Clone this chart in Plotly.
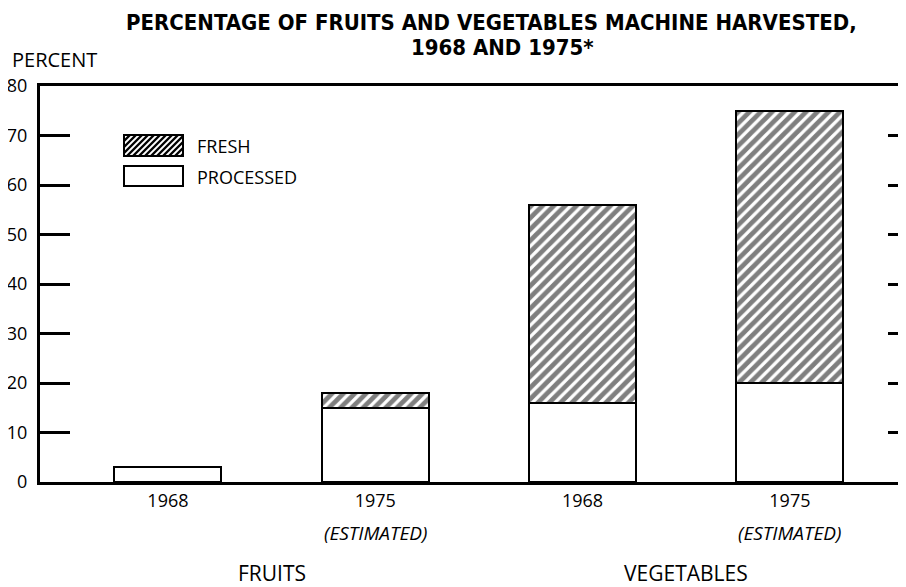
import plotly.graph_objects as go

# ---- data ----
years = ["1968", "1975", "1968", "1975"]
estimated = ["", "(ESTIMATED)", "", "(ESTIMATED)"]
groups = ["FRUITS", "VEGETABLES"]
processed = [3, 15, 16, 20]
fresh = [0, 3, 40, 55]
yticks = [0, 10, 20, 30, 40, 50, 60, 70, 80]
title_lines = ["PERCENTAGE OF FRUITS AND VEGETABLES MACHINE HARVESTED,", "1968 AND 1975*"]

# page body adds an 8px offset; figure is sized to fill the remaining window
OFF = 8
W, H = 906 - OFF, 587 - OFF
L, R, T, B = 40 - OFF, 0, 86 - OFF, 105
PW, PH = W - L - R, H - T - B

def px_x(px):
    return (px - OFF - L) / PW

def px_y(py):
    return (H - B - (py - OFF)) / PH

idx = list(range(len(years)))
FONT = "'Open Sans', Lato, 'DejaVu Sans', sans-serif"
NARROW = "'Liberation Sans Narrow', 'DejaVu Sans Condensed', 'Arial Narrow', sans-serif"

fig = go.Figure()
fig.add_trace(go.Bar(
    x=idx, y=processed, name="PROCESSED", width=0.516,
    marker=dict(color="white", line=dict(color="black", width=2.5)),
    showlegend=False,
))
fig.add_trace(go.Bar(
    x=idx, y=fresh, name="FRESH", width=0.516,
    marker=dict(color="white", line=dict(color="black", width=2.5),
                pattern=dict(shape="/", fgcolor="black", bgcolor="white",
                             size=8, solidity=0.6)),
    showlegend=False,
))
# dummy trace to activate the right-hand tick axis
fig.add_trace(go.Scatter(x=[None], y=[None], yaxis="y2", showlegend=False,
                         hoverinfo="skip"))

shapes = []
# legend boxes (drawn in pixel-derived paper coords)
bx0, bx1 = 124, 183
for (ty, by, hatched) in [(135, 156, True), (166, 186, False)]:
    shapes.append(dict(type="rect", xref="paper", yref="paper",
                       x0=px_x(bx0), x1=px_x(bx1), y0=px_y(by), y1=px_y(ty),
                       line=dict(color="black", width=2), fillcolor="white"))
    if hatched:
        h = by - ty
        step = 6
        x = bx0 - h
        while x < bx1:
            t0 = max(0.0, (bx0 - x) / h)
            t1 = min(1.0, (bx1 - x) / h)
            if t1 > t0:
                xa, ya = x + h * t0, by - h * t0
                xb, yb = x + h * t1, by - h * t1
                shapes.append(dict(type="line", xref="paper", yref="paper",
                                   x0=px_x(xa), y0=px_y(ya), x1=px_x(xb), y1=px_y(yb),
                                   line=dict(color="black", width=2.4)))
            x += step

annotations = []
for line_text, cx, cy in zip(title_lines, [491, 503], [22.5, 48]):
    annotations.append(dict(text="<b>" + line_text + "</b>", xref="paper", yref="paper",
                            x=px_x(cx), y=px_y(cy), xanchor="center", yanchor="middle",
                            showarrow=False,
                            font=dict(family=NARROW, size=22, color="black")))
annotations.append(dict(text="PERCENT", xref="paper", yref="paper",
                        x=px_x(10), y=px_y(60), xanchor="left", yanchor="middle",
                        showarrow=False, font=dict(family=FONT, size=20, color="black")))
annotations.append(dict(text="FRESH", xref="paper", yref="paper",
                        x=px_x(195), y=px_y(146), xanchor="left", yanchor="middle",
                        showarrow=False, font=dict(family=FONT, size=18, color="black")))
annotations.append(dict(text="PROCESSED", xref="paper", yref="paper",
                        x=px_x(195), y=px_y(177), xanchor="left", yanchor="middle",
                        showarrow=False, font=dict(family=FONT, size=18, color="black")))
for i, e in zip(idx, estimated):
    if e:
        annotations.append(dict(text="<i>" + e + "</i>", xref="x", yref="paper",
                                x=i, y=px_y(533), xanchor="center", yanchor="middle",
                                showarrow=False,
                                font=dict(family=FONT, size=19, color="black")))
for gi, g in enumerate(groups):
    annotations.append(dict(text=g, xref="x", yref="paper",
                            x=2 * gi + 0.5, y=px_y(573), xanchor="center", yanchor="middle",
                            showarrow=False, font=dict(family=FONT, size=21, color="black")))

fig.update_layout(
    width=W, height=H,
    margin=dict(l=L, r=R, t=T, b=B, autoexpand=False),
    paper_bgcolor="white", plot_bgcolor="white",
    barmode="stack", bargap=0,
    xaxis=dict(range=[-0.617, 3.56], tickvals=idx, ticktext=years,
               showline=True, mirror=True, linecolor="black", linewidth=3,
               ticks="", showgrid=False, zeroline=False, automargin=False,
               tickfont=dict(family=FONT, size=18, color="black")),
    yaxis=dict(range=[0, 80], tickvals=yticks, ticks="inside", ticklen=30,
               tickwidth=2.5, tickcolor="black", automargin=False,
               ticklabelstandoff=6,
               showline=True, linecolor="black", linewidth=3,
               showgrid=False, zeroline=False,
               tickfont=dict(family=FONT, size=18, color="black")),
    yaxis2=dict(range=[0, 80], overlaying="y", side="right", anchor="x",
                tickvals=yticks[1:-1], ticks="inside", ticklen=18,
                tickwidth=2.5, tickcolor="black", showticklabels=False,
                automargin=False,
                showline=False, showgrid=False, zeroline=False),
    shapes=shapes,
    annotations=annotations,
)

fig.write_html("out.html")
